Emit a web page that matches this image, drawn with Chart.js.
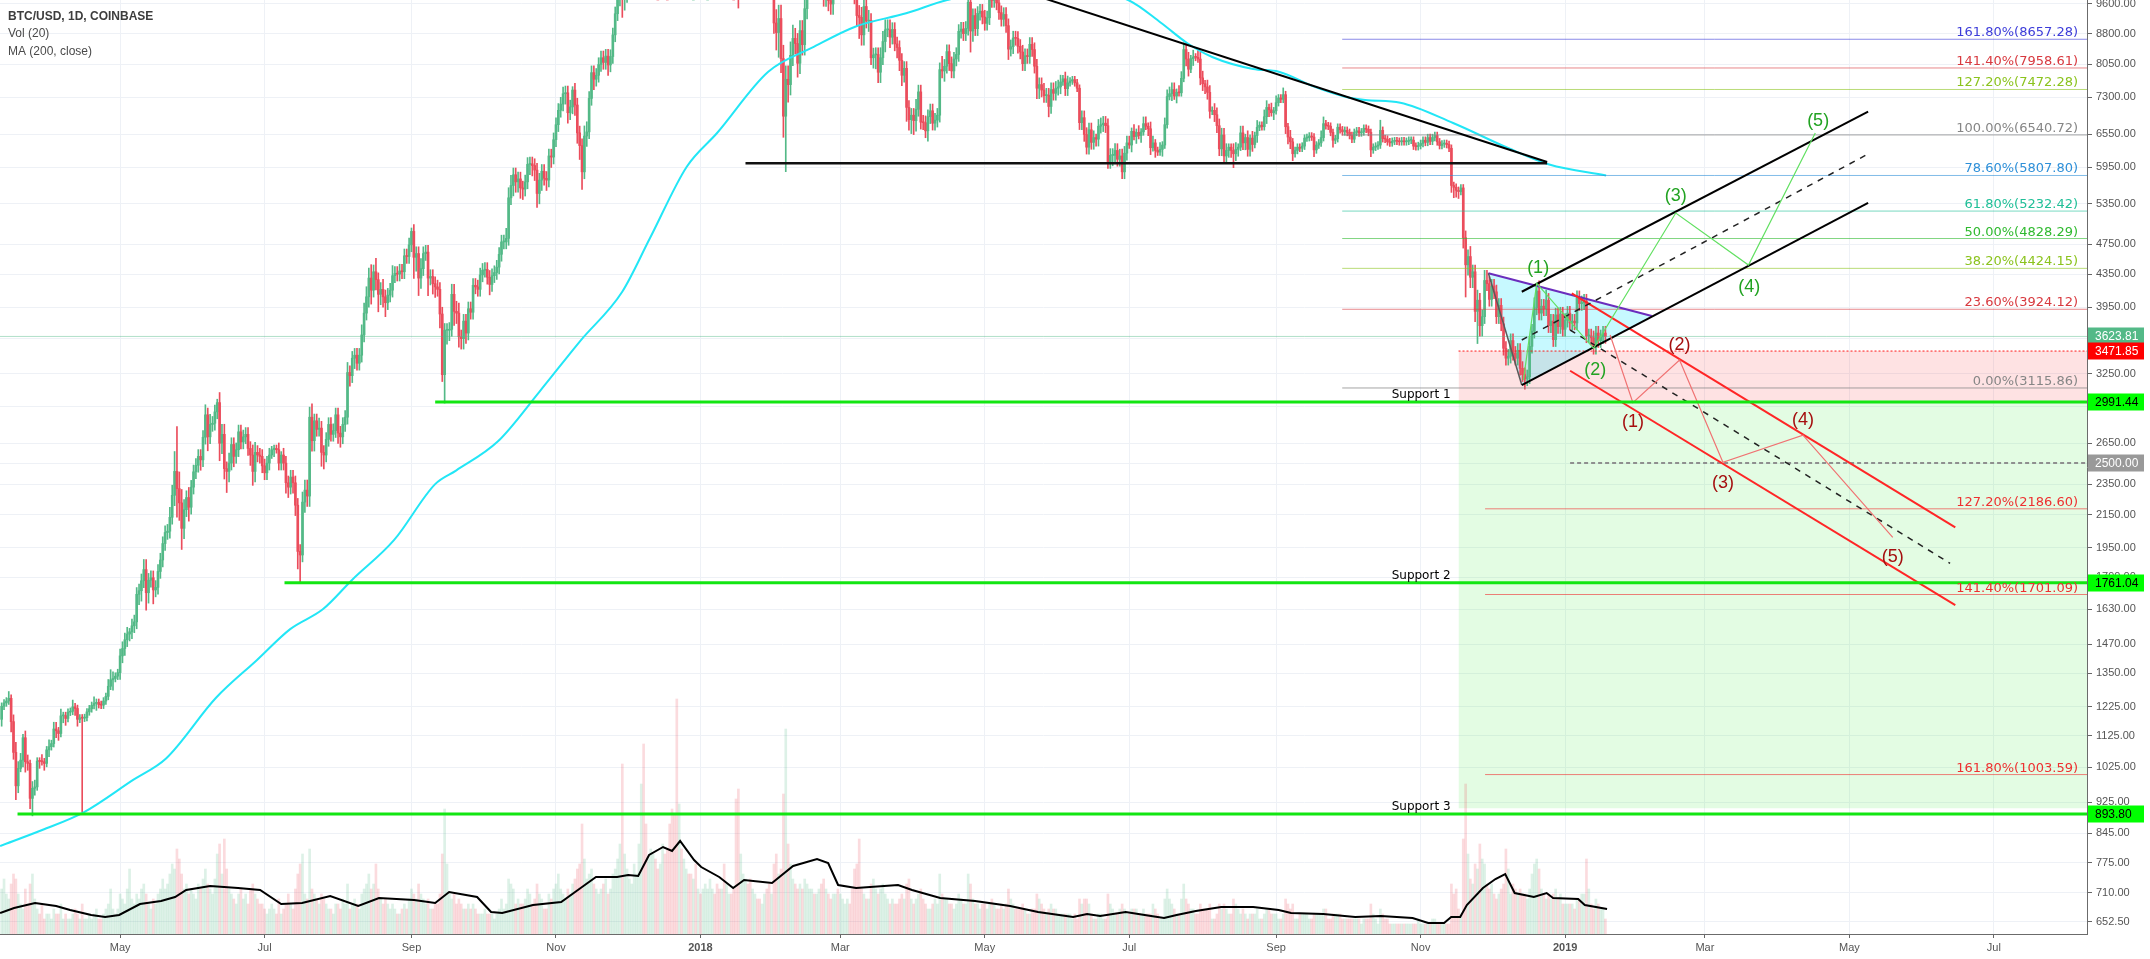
<!DOCTYPE html>
<html><head><meta charset="utf-8">
<script src="https://cdn.jsdelivr.net/npm/chart.js@4.4.1/dist/chart.umd.min.js"></script>
<style>html,body{margin:0;padding:0;background:#fff;overflow:hidden}canvas{display:block}</style>
</head><body>
<canvas id="c" width="2150" height="959"></canvas>
<script>
// ---------------- DATA ----------------
const startDate = '2017-03-12';
const firstOpen = 1180;
const closes = [
// Mar 2017
1226,1238,1245,1255,1172,1071,971,1022,1047,1118,1042,1037,936,964,968,1044,1043,1042,1037,1079,
// Apr
1089,1099,1147,1141,1132,1192,1193,1183,1205,1208,1224,1218,1180,1185,1184,1186,1206,1217,1229,1236,1240,1232,1230,1245,1262,1300,1325,1330,1339,1353,
// May
1421,1452,1490,1515,1525,1552,1570,1702,1720,1771,1830,1710,1774,1787,1724,1737,1820,1882,1975,2040,2048,2133,2275,2440,2320,2225,2065,2181,2260,2197,2330,
// Jun
2437,2484,2550,2524,2697,2880,2700,2800,2810,2905,2985,2650,2720,2460,2440,2500,2640,2550,2600,2740,2660,2700,2720,2610,2560,2440,2580,2560,2550,2480,
// Jul
2430,2500,2560,2600,2610,2600,2500,2560,2500,2360,2330,2400,2360,2210,1930,1910,2230,2310,2270,2860,2670,2830,2760,2770,2580,2560,2680,2800,2720,2750,2880,
// Aug
2730,2700,2800,2860,3260,3230,3400,3430,3350,3430,3640,3880,4070,4300,4150,4380,4280,4100,4160,4070,4000,4090,4150,4330,4360,4350,4390,4380,4590,4580,4740,
// Sep
4930,4570,4620,4300,4420,4620,4640,4300,4320,4230,4190,4160,3870,3240,3690,3690,3700,4100,3900,3880,3620,3600,3790,3660,3930,3890,4210,4190,4160,4340,
// Oct
4400,4410,4310,4220,4330,4370,4440,4610,4780,4780,4830,5440,5640,5820,5700,5750,5600,5580,5700,6000,6010,5980,5900,5510,5730,5880,5760,5730,6150,6130,6450,
// Nov
6740,7030,7160,7380,7400,6980,7100,7460,7140,6580,6340,5870,6520,6600,7280,7850,7700,7790,8040,8200,8090,8240,8030,8230,8770,9330,9740,9890,9820,9940,
// Dec
10850,10890,11180,11600,11650,13750,16850,16050,14880,15060,16730,17280,16480,16450,17600,19650,19000,18950,17600,16450,15560,13860,14600,13900,14000,15800,15450,14400,14400,12630,13880,
// Jan 2018
13440,14750,15010,15050,16960,17090,16150,14900,14400,14900,13250,13840,14190,13600,13580,11400,11160,11250,11550,12780,11530,10800,10860,11390,11140,11070,11410,11760,11200,10090,10220,
// Feb
9080,8830,9200,8180,6910,7700,7580,8260,8680,8550,8070,8880,8520,9470,10030,10170,11100,10400,11150,11220,10460,9830,10150,9700,9600,10320,10570,10330,
// Mar
10930,11030,11440,11500,11440,10710,9900,9280,9230,8770,9530,9130,9150,8200,8270,8280,7860,8200,8600,8900,8900,8710,8910,8540,8450,8140,7790,7950,7090,6840,6930,
// Apr
6820,7050,7420,6790,6780,6620,6900,7020,6770,6830,6930,7920,7890,8000,8350,8060,7890,8170,8280,8860,8920,8800,8940,9650,8870,9280,8930,9340,9400,9240,
// May
9070,9220,9750,9700,9850,9630,9360,9180,9310,9010,8410,8470,8690,8680,8480,8340,8060,8250,8230,8530,8400,8000,7500,7580,7460,7340,7350,7110,7470,7390,7500,
// Jun
7530,7640,7710,7490,7620,7660,7690,7620,7500,6780,6880,6550,6310,6640,6400,6490,6460,6710,6740,6770,6720,6050,6160,6160,6250,6090,6150,5870,6200,6390,
// Jul
6350,6610,6510,6590,6530,6600,6760,6710,6660,6300,6390,6250,6220,6270,6350,6740,7320,7380,7470,7330,7410,7400,7720,8400,8170,7930,8180,8220,8210,8170,7730,
// Aug
7600,7530,7410,7010,7030,6940,6720,6280,6540,6150,6250,6310,6250,6190,6270,6310,6580,6390,6490,6270,6480,6360,6530,6690,6730,6700,6900,7090,7040,6980,7020,
// Sep
7190,7290,7260,7360,6700,6500,6410,6190,6250,6310,6290,6330,6480,6490,6520,6500,6260,6350,6390,6490,6760,6720,6710,6590,6440,6470,6690,6640,6600,6630,
// Oct
6590,6530,6460,6590,6620,6580,6600,6670,6650,6590,6260,6310,6330,6350,6630,6470,6460,6410,6390,6420,6430,6420,6410,6430,6410,6420,6440,6440,6330,6320,6340,
// Nov
6380,6440,6400,6490,6420,6490,6530,6410,6340,6370,6380,6360,6290,5640,5610,5560,5540,5600,4840,4470,4580,4310,4380,3900,4030,3740,3840,4270,4230,4040,
// Dec
4200,4130,3840,3970,3760,3500,3400,3420,3580,3450,3400,3480,3300,3240,3200,3220,3520,3680,3940,4140,3880,3960,3930,4030,3740,3790,3590,3860,3730,3870,3700,
// Jan 2019
3800,3880,3770,3790,3770,4060,3990,4000,4020,3630,3630,3610,3510,3660,3580,3620,3660,3624
];
// upper / lower wick length, % beyond the candle body
const wickUpPct = [
1,1,1,2,1,2,3,2,2,1,2,2,1,2,2,1,1,2,1,1,
2,1,2,2,1,2,1,1,1,1,2,1,1,1,1,1,1,1,1,2,1,1,1,1,1,2,3,2,1,1,
2,2,2,2,1,2,2,2,2,2,3,3,2,2,2,2,2,2,2,2,2,3,3,6,14,5,4,3,2,3,2,
2,2,2,2,2,3,2,3,2,2,1,3,3,3,2,3,2,2,2,2,2,2,2,2,2,3,3,2,2,2,
2,2,2,1,1,1,2,1,2,2,2,2,2,2,2,2,3,3,3,3,4,2,2,3,2,2,2,2,2,2,2,
2,2,2,2,3,2,2,2,2,2,3,3,3,3,4,2,4,2,2,3,2,2,2,3,2,2,2,2,2,2,2,
1,2,2,2,3,2,2,2,2,2,2,2,2,2,2,2,2,3,3,3,3,2,2,2,2,2,2,2,2,2,
2,2,2,2,2,2,2,2,2,2,3,3,3,2,2,2,2,2,2,2,2,2,2,2,2,2,2,2,2,2,2,
2,2,2,2,2,2,2,1,2,2,2,2,3,3,2,2,2,2,2,2,2,2,2,2,2,2,2,2,3,2,
3,3,3,3,3,4,10,3,3,3,3,3,3,3,3,2,2,2,3,3,3,4,3,4,3,3,3,3,3,3,3,
3,3,3,3,3,3,3,3,3,3,3,3,3,3,3,3,4,4,3,3,3,3,3,3,3,3,3,3,3,3,3,
4,4,4,4,4,4,4,4,4,3,3,3,3,4,3,3,3,3,3,3,3,3,3,3,3,3,3,3,
3,3,3,3,3,2,2,3,3,3,3,3,3,2,2,2,2,3,3,3,3,3,2,2,2,2,2,2,2,2,2,
2,3,2,2,2,2,2,2,2,2,2,2,4,2,2,2,2,2,2,2,2,2,2,3,3,2,2,2,2,2,
2,2,2,2,2,2,2,2,2,2,2,2,2,2,2,2,2,2,2,2,2,2,2,2,2,2,2,2,2,2,2,
2,2,1,2,2,1,1,1,1,1,2,2,2,2,2,2,1,2,2,2,2,2,2,2,2,2,2,2,2,2,
2,1,2,1,2,1,2,2,1,2,2,1,1,2,1,2,2,2,2,2,1,2,2,2,2,2,1,2,1,2,2,
2,1,2,2,1,2,2,2,2,2,2,1,1,2,2,1,2,2,1,2,1,2,1,2,1,1,2,2,1,2,1,
2,1,1,2,1,1,2,1,1,1,1,1,1,1,1,1,1,1,1,2,2,1,1,1,1,1,1,1,1,1,
1,1,1,1,1,1,1,1,1,1,1,1,1,1,3,1,1,1,1,1,1,1,1,1,1,1,1,1,1,1,1,
1,1,1,1,1,1,1,1,1,1,1,1,1,1,1,1,1,1,1,2,2,3,2,2,3,2,2,3,3,2,
2,2,2,2,2,2,2,2,2,2,2,2,2,2,2,2,3,2,3,2,3,2,2,3,2,2,2,2,2,2,2,
2,2,2,2,2,2,2,2,2,2,2,2,2,2,2,2,2,2
];
const wickDnPct = [
2,1,1,1,3,2,4,2,1,2,3,2,3,5,2,1,2,1,2,1,
2,1,1,2,2,1,2,2,1,1,1,2,2,1,24,1,1,1,1,1,2,1,1,1,1,1,1,3,1,1,
2,2,2,2,2,2,2,2,3,3,2,5,3,2,4,2,2,2,2,2,2,2,2,3,8,5,6,3,2,4,2,
2,2,2,3,2,2,4,2,2,2,2,5,3,3,6,3,2,3,2,2,2,2,2,2,3,4,3,2,2,2,
2,2,2,1,2,1,2,2,2,3,3,2,3,3,5,8,2,3,3,3,3,3,2,2,4,4,2,2,2,2,2,
3,3,2,2,2,3,2,3,2,2,2,2,2,3,4,2,3,5,3,3,4,2,2,2,2,2,2,2,2,2,2,
2,6,4,5,3,2,2,5,2,3,3,2,4,2,8,4,3,2,4,3,3,3,3,3,2,2,2,2,2,2,
2,2,2,3,2,2,2,2,2,2,2,2,2,3,3,3,3,3,2,2,3,3,3,4,3,3,2,3,2,3,2,
2,2,2,2,3,3,2,2,3,3,4,5,2,3,2,2,3,2,2,2,2,2,3,2,2,2,2,2,6,4,
3,3,3,3,3,3,3,5,7,5,3,3,3,4,3,3,3,3,4,4,5,11,3,5,3,3,5,5,4,6,3,
3,3,3,3,3,3,3,3,3,3,5,3,3,3,3,8,15,4,3,3,3,4,4,3,3,3,2,3,3,3,3,
3,5,7,4,6,15,5,3,3,3,4,3,3,3,3,3,3,3,3,3,3,3,3,3,3,3,3,3,
2,3,2,2,2,3,3,3,6,3,3,2,3,2,3,4,3,3,2,3,2,3,2,2,3,3,3,2,4,3,4,
4,3,2,2,2,2,3,2,2,2,2,2,2,3,2,2,2,2,2,2,2,2,2,2,6,3,2,2,2,2,
2,2,2,2,2,2,2,2,2,2,3,2,2,2,2,2,2,2,2,2,2,2,3,3,2,2,2,3,2,2,2,
2,2,1,2,2,1,1,1,1,2,2,2,2,2,2,2,2,2,2,2,2,2,2,3,2,2,2,2,2,2,
1,2,1,2,1,2,1,1,2,2,1,2,1,1,2,1,1,1,2,1,2,1,1,1,2,2,1,2,1,1,2,
2,2,2,2,1,2,2,2,2,2,2,2,2,4,2,2,1,2,2,2,2,2,1,2,1,1,1,2,2,1,2,
1,1,1,1,2,2,2,2,1,1,1,1,1,1,1,1,2,1,1,1,1,1,1,1,2,1,1,1,1,1,
1,1,1,1,1,1,1,1,1,1,2,1,1,1,1,1,1,1,1,1,1,1,1,1,1,1,1,1,1,1,1,
1,1,1,1,1,1,1,1,1,1,1,1,1,2,3,2,2,1,3,9,3,3,3,3,9,3,3,2,2,2,
2,2,2,2,2,2,2,2,2,2,2,2,2,2,3,2,2,2,2,2,2,2,2,2,2,2,2,2,2,2,2,
2,2,2,2,2,2,2,2,2,2,2,2,2,2,2,2,2,2
];
// daily volume (relative units)
const volumes = [
9,11,8,7,10,12,11,8,6,5,9,6,10,12,7,5,4,6,3,4,
4,3,5,4,4,6,3,4,3,3,4,5,4,3,6,3,3,4,3,4,5,3,3,4,5,6,9,5,4,5,
8,7,6,9,13,7,6,8,7,9,10,8,6,5,7,6,8,9,11,9,10,12,14,13,17,15,12,9,10,8,9,
8,7,10,9,11,13,10,9,8,11,16,18,12,19,13,9,8,7,6,8,9,7,8,6,9,10,8,7,6,6,
5,4,5,6,5,4,7,4,5,6,8,6,5,9,12,14,16,8,7,17,9,8,7,6,8,7,6,5,5,4,6,
6,5,7,6,10,5,6,7,6,5,8,9,10,12,9,10,14,9,7,6,7,6,5,6,5,4,4,5,6,5,7,
9,8,7,10,8,7,6,7,5,5,6,6,8,16,25,14,8,7,8,6,7,6,5,5,6,5,6,5,4,4,
4,5,4,4,4,3,4,5,7,5,6,11,10,9,6,7,6,6,7,9,8,6,7,10,8,7,5,5,8,7,9,
10,12,9,8,7,9,8,10,11,13,14,22,15,11,12,13,10,9,8,9,10,11,8,9,12,13,15,18,34,16,
13,11,10,14,12,18,30,38,22,15,17,16,15,13,14,18,16,17,22,25,24,47,26,17,15,13,12,12,11,14,9,
8,9,10,9,11,9,8,10,9,9,14,10,8,8,9,27,29,16,12,11,10,11,9,8,7,7,6,8,9,10,8,
14,16,12,13,28,41,18,14,11,10,9,10,9,11,10,9,9,8,8,9,10,11,9,8,7,8,8,9,
8,7,6,7,6,9,13,14,19,9,8,7,7,10,11,9,8,9,10,8,7,6,7,6,6,7,8,7,10,11,7,
6,7,8,9,7,6,5,5,6,7,6,12,8,7,7,6,6,5,6,8,7,6,6,12,10,7,6,6,5,6,
6,5,6,7,6,5,5,6,5,6,9,7,6,5,5,5,6,5,4,4,5,5,8,7,6,5,4,5,6,5,5,
4,4,4,4,4,4,3,4,3,7,6,7,7,6,4,3,3,4,4,3,3,8,6,5,4,4,5,6,5,4,
4,5,5,5,4,4,5,4,4,4,6,5,4,3,3,7,9,7,6,5,4,4,7,10,7,6,5,5,4,4,6,
5,5,5,6,3,3,4,6,5,6,5,4,4,7,6,5,4,5,4,3,4,4,4,5,3,3,4,5,5,4,4,
4,3,3,4,7,6,5,6,3,3,4,4,4,4,3,3,4,4,4,4,5,5,3,3,4,4,4,4,3,3,
3,3,3,3,3,3,2,3,3,3,6,4,3,2,5,4,3,3,2,2,2,2,2,2,2,2,2,2,2,2,3,
2,2,2,2,2,3,3,2,2,2,2,2,2,10,8,9,5,4,19,30,16,11,10,14,13,18,15,14,10,9,
10,8,7,8,9,10,17,13,8,10,9,8,9,8,8,7,9,12,14,15,13,9,8,7,8,7,8,9,7,8,6,
6,6,6,6,5,7,7,8,8,15,9,6,5,7,6,5,5,3
];
// MA(200, close): [day index, price]
const ma200Points = [[-0.66,814],[17.1,853],[34.8,899],[55.5,988],[69.4,1052],[90.4,1256],[107.8,1404],[121.8,1537],[135.7,1630],[147.9,1775],[165.7,1996],[183,2351],[191.8,2446],[209.4,2663],[226.9,3079],[244.2,3575],[261.9,4128],[273.7,4835],[289.2,5959],[302,6578],[323.6,7872],[343,8471],[360.3,8982],[381.8,9342],[399.1,9713],[437.1,10150],[475.5,9713],[489.5,9080],[500.4,8563],[511,8219],[528.3,7935],[539.1,7872],[554,7534],[567.1,7316],[575.6,7246],[590.4,7189],[612.7,6773],[635.9,6295],[653.3,5998],[677.3,5807]];
// Vol MA(20): [day index, volume units]
const volMaPoints = [[-0.66,4.2],[5.25,5.2],[14.1,6.2],[23,5.6],[28.9,4.8],[37.8,3.8],[43.7,3.4],[49.6,3.8],[58.4,6],[67.3,6.6],[73.2,7.4],[77.9,8.8],[88,9.6],[99.8,9.2],[109.1,8.8],[118,6],[126.8,6.2],[138.7,7.6],[150.5,5.6],[159.3,7.2],[174.1,6.8],[183,6.2],[188.9,8.4],[200.7,7.4],[206.6,4.4],[211.3,4.2],[224.3,5.8],[236.2,6.4],[245,9.4],[250.9,11.4],[259.8,11.4],[264.5,11.8],[268.7,11.6],[273.3,15.8],[279.2,17.4],[283,16.6],[286.4,18.6],[292.3,14.8],[295.3,13.4],[302.9,11.4],[308.8,9.2],[313.4,10.8],[325.2,10.2],[334.1,13.6],[344.2,15],[348.9,14.2],[353.1,9.8],[360.7,9.2],[378.4,9.8],[384.3,8.8],[396.2,7.2],[410.9,6.6],[425.7,5.6],[437.5,4.4],[452.3,3.4],[458.2,4],[463.7,3.6],[474.5,4.4],[485.2,3.6],[490.7,3.2],[496,3.8],[504.1,4.6],[514.8,5.4],[528.3,5.4],[539.1,4.8],[544.3,4.2],[557.9,4],[571.4,3.4],[582.2,3.6],[595.6,3.2],[602.2,2.2],[608.9,2.2],[611.9,3.4],[615.7,3.4],[618.5,5.8],[625.3,9.2],[630.6,11],[634.7,12],[638.7,8.2],[646.8,7.4],[652.2,8.2],[654.9,7.2],[665.5,7],[668.3,5.8],[677.7,5]];

const xTickDates = ['2017-05-01','2017-07-01','2017-09-01','2017-11-01','2018-01-01','2018-03-01','2018-05-01','2018-07-01','2018-09-01','2018-11-01','2019-01-01','2019-03-01','2019-05-01','2019-07-01'];
const xTickLabels = ['May','Jul','Sep','Nov','2018','Mar','May','Jul','Sep','Nov','2019','Mar','May','Jul'];
const yTickValues = [652.5,710,775,845,925,1025,1125,1225,1350,1470,1630,1790,1950,2150,2350,2500,2650,2950,3250,3600,3950,4350,4750,5350,5950,6550,7300,8050,8800,9600];

const fibUpperPct = [161.8,141.4,127.2,100,78.6,61.8,50,38.2,23.6,0];
const fibUpperValues = [8657.28,7958.61,7472.28,6540.72,5807.80,5232.42,4828.29,4424.15,3924.12,3115.86];
const fibUpperStartDay = 565.9;
const fibLowerPct = [127.2,141.4,161.8];
const fibLowerValues = [2186.60,1701.09,1003.59];
const fibLowerStartDay = 626.2;

const supportNames = ['Support 1','Support 2','Support 3'];
const supportLevels = [2991.44,1761.04,893.80];
const supportStartDays = [183,119.4,6.7];
const supportLabelDay = 599.2;

const descTrendLine = [[440.9,9742],[652.4,6041]];
const rangeFloorLine = [[314,6019],[652.4,6019]];
const trianglePts = [[627.6,4360],[696.6,3847],[641.7,3142.7]];
const upChannelUpper = [[641.7,4131],[787.9,7003]];
const upChannelMid = [[641.7,3586],[787.9,6186]];
const upChannelLower = [[641.7,3142.7],[787.9,5361]];
const downChannelUpper = [[662.8,4112],[824.7,2071]];
const downChannelMid = [[662.1,3693],[822.5,1864]];
const downChannelLower = [[662.1,3277],[824.7,1649]];
const greenWavePath = [[642.4,3189],[648,4234],[672,3499.5],[706.7,5203],[737.4,4467],[765.6,6578]];
const redWavePath = [[679,3639],[688.6,2984],[708.3,3381.6],[726.6,2505.6],[760.4,2714],[798.3,2011]];
const waveNames = ['(1)','(2)','(3)','(4)','(5)'];
const greenWaveLabelPts = [[648.6,4428],[672.7,3284],[706.7,5469],[737.7,4192],[766.8,6819]];
const redWaveLabelPts = [[688.6,2822],[708.3,3533.7],[726.6,2356],[760.4,2836],[798.3,1896.7]];
const zoneStartDay = 615;
const zoneBottom = 909.6;
const lastPrice = 3623.81;
const markPrice = 3471.85;
const targetPrice = 2500;
const targetStartDay = 662.1;

// ---------------- STYLE / BUILD ----------------
const FONT = '"Liberation Sans", Arial, sans-serif';
const X_MIN = -0.7, X_MAX = 880.3, Y_MIN = 629, Y_MAX = 9713;
const UP = '#53b987', DN = '#eb4d5c';
const FIB_UPPER_TEXT = ['#3c3cd9','#d8393f','#8bc31d','#868686','#2d8fd8','#1fbf97','#2fba2f','#8bc31d','#d8393f','#868686'];
const FIB_UPPER_LINE = ['rgba(60,60,217,0.6)','rgba(216,57,63,0.6)','rgba(139,195,29,0.6)','rgba(134,134,134,0.75)','rgba(45,143,216,0.6)','rgba(31,191,151,0.6)','rgba(47,186,47,0.6)','rgba(139,195,29,0.6)','rgba(216,57,63,0.6)','rgba(134,134,134,0.75)'];

const t0 = Date.UTC(2017,2,12);
function dayIndex(s){ const [y,m,d] = s.split('-').map(Number); return (Date.UTC(y,m-1,d) - t0) / 86400000; }
const opens = closes.map((c,i) => i === 0 ? firstOpen : closes[i-1]);
const highs = closes.map((c,i) => Math.max(opens[i], c) * (1 + wickUpPct[i] / 100));
const lows = closes.map((c,i) => Math.min(opens[i], c) * (1 - wickDnPct[i] / 100));
const candleCol = closes.map((c,i) => c >= opens[i] ? UP : DN);
const volCol = closes.map((c,i) => c >= opens[i] ? 'rgba(83,185,135,0.2)' : 'rgba(235,77,92,0.2)');
const pts = arr => arr.map(([x,y]) => ({x, y}));

function line(points, color, width, order, extra) {
  return Object.assign({type:'line', data: pts(points), borderColor: color, borderWidth: width,
    pointRadius: 0, tension: 0, fill: false, order: order}, extra || {});
}

const datasets = [];
// zones
datasets.push(line([[zoneStartDay, markPrice],[X_MAX, markPrice]], 'rgba(0,0,0,0)', 0, 200, {fill:{value: supportLevels[0]}, backgroundColor:'rgba(245,60,70,0.15)'}));
datasets.push(line([[zoneStartDay, supportLevels[0]],[X_MAX, supportLevels[0]]], 'rgba(0,0,0,0)', 0, 199, {fill:{value: zoneBottom}, backgroundColor:'rgba(60,235,60,0.14)'}));
// triangle fill
datasets.push(line([trianglePts[0], trianglePts[1], trianglePts[2], trianglePts[0]], 'rgba(0,0,0,0)', 0, 150, {fill:'shape', backgroundColor:'rgba(0,229,255,0.22)'}));
// volume
datasets.push({type:'bar', yAxisID:'yv', data: volumes.map((v,i)=>({x:i, y:v})), backgroundColor: volCol, barThickness: 2, grouped:false, order: 120});
// candles
datasets.push({type:'bar', data: closes.map((c,i)=>({x:i, y:[lows[i], highs[i]]})), backgroundColor: candleCol, barThickness: 1, grouped:false, order: 60});
datasets.push({type:'bar', data: closes.map((c,i)=>({x:i, y:[opens[i], c]})), backgroundColor: candleCol, barThickness: 2, minBarLength: 1, grouped:false, order: 59});
// indicators
datasets.push(line(ma200Points, '#22e6f6', 2, 55, {cubicInterpolationMode:'monotone'}));
datasets.push(line(volMaPoints, '#000', 2, 56, {yAxisID:'yv'}));
// last price line
datasets.push(line([[X_MIN, lastPrice],[X_MAX, lastPrice]], 'rgba(83,185,135,0.45)', 1, 58));
// fib lines
fibUpperValues.forEach((v,i) => datasets.push(line([[fibUpperStartDay, v],[X_MAX, v]], FIB_UPPER_LINE[i], 1, 40)));
fibLowerValues.forEach(v => datasets.push(line([[fibLowerStartDay, v],[X_MAX, v]], 'rgba(240,60,60,0.65)', 1, 40)));
// mark / target lines
datasets.push(line([[zoneStartDay, markPrice],[X_MAX, markPrice]], '#ff1a1a', 1, 38, {borderDash:[2,2]}));
datasets.push(line([[targetStartDay, targetPrice],[X_MAX, targetPrice]], '#8f8f8f', 2, 38, {borderDash:[4,3]}));
// trend lines
datasets.push(line(descTrendLine, '#000', 2, 30));
datasets.push(line(rangeFloorLine, '#111', 2.5, 30));
// triangle edges
datasets.push(line([trianglePts[0], trianglePts[2]], '#5a5a5a', 1.5, 29));
datasets.push(line([trianglePts[0], trianglePts[1]], '#6b2dbd', 2, 29));
// channels
datasets.push(line(upChannelUpper, '#000', 2, 28));
datasets.push(line(upChannelMid, '#222', 1.5, 28, {borderDash:[6,6]}));
datasets.push(line(upChannelLower, '#000', 2, 28));
datasets.push(line(downChannelUpper, '#ff2626', 2, 28));
datasets.push(line(downChannelMid, '#222', 1.5, 28, {borderDash:[6,6]}));
datasets.push(line(downChannelLower, '#ff2626', 2, 28));
// waves
datasets.push(line(greenWavePath, '#62e062', 1.2, 26));
datasets.push(line(redWavePath, '#f07272', 1.2, 26));
// supports
supportLevels.forEach((v,i) => datasets.push(line([[supportStartDays[i], v],[X_MAX, v]], '#12e612', 3, 20)));

const overlay = {
  id: 'overlay',
  afterDatasetsDraw(chart) {
    const {ctx, chartArea: a} = chart;
    const xs = chart.scales.x, ys = chart.scales.y;
    ctx.save();
    ctx.beginPath(); ctx.rect(a.left, a.top, a.right - a.left, a.bottom - a.top); ctx.clip();
    ctx.textAlign = 'right'; ctx.textBaseline = 'alphabetic';
    ctx.font = '13px "DejaVu Sans", Verdana, sans-serif';
    fibUpperPct.forEach((p,i) => {
      const v = fibUpperValues[i];
      ctx.fillStyle = FIB_UPPER_TEXT[i];
      ctx.fillText(p.toFixed(2) + '%(' + v.toFixed(2) + ')', a.right - 9, ys.getPixelForValue(v) - 3);
    });
    fibLowerPct.forEach((p,i) => {
      const v = fibLowerValues[i];
      ctx.fillStyle = '#ee3030';
      ctx.fillText(p.toFixed(2) + '%(' + v.toFixed(2) + ')', a.right - 9, ys.getPixelForValue(v) - 3);
    });
    ctx.textAlign = 'center';
    ctx.font = '12px "DejaVu Sans", Verdana, sans-serif';
    ctx.fillStyle = '#000';
    supportLevels.forEach((v,i) => ctx.fillText(supportNames[i], xs.getPixelForValue(supportLabelDay), ys.getPixelForValue(v) - 4));
    ctx.font = '18px ' + FONT; ctx.textBaseline = 'middle';
    greenWaveLabelPts.forEach(([d,p],i) => { ctx.fillStyle = '#22a322'; ctx.fillText(waveNames[i], xs.getPixelForValue(d), ys.getPixelForValue(p)); });
    redWaveLabelPts.forEach(([d,p],i) => { ctx.fillStyle = '#a50f0f'; ctx.fillText(waveNames[i], xs.getPixelForValue(d), ys.getPixelForValue(p)); });
    ctx.restore();
  },
  afterDraw(chart) {
    const {ctx, chartArea: a} = chart;
    const ys = chart.scales.y;
    ctx.save();
    const boxes = [[lastPrice,'#53b987','#fff'],[markPrice,'#ff0000','#fff'],[supportLevels[0],'#00ff00','#000'],[targetPrice,'#999999','#fff'],[supportLevels[1],'#00ff00','#000'],[supportLevels[2],'#00ff00','#000']];
    ctx.font = '12px ' + FONT; ctx.textAlign = 'left'; ctx.textBaseline = 'middle';
    boxes.forEach(([v,bg,fg]) => {
      const yy = Math.round(ys.getPixelForValue(v));
      ctx.fillStyle = bg; ctx.fillRect(a.right + 1, yy - 8.5, 56, 17);
      ctx.fillStyle = fg; ctx.fillText(v.toFixed(2), a.right + 8, yy + 0.5);
    });
    ctx.fillStyle = '#3d3d3d';
    ctx.font = 'bold 12px ' + FONT; ctx.textAlign = 'left';
    ctx.fillText('BTC/USD, 1D, COINBASE', 8, 17);
    ctx.fillStyle = '#4a4a4a';
    ctx.font = '12px ' + FONT;
    ctx.fillText('Vol (20)', 8, 34);
    ctx.fillText('MA (200, close)', 8, 52);
    ctx.restore();
  }
};

new Chart(document.getElementById('c'), {
  type: 'bar',
  data: { datasets },
  options: {
    responsive: false, animation: false, devicePixelRatio: 1,
    layout: { padding: 0, autoPadding: false },
    plugins: { legend: {display:false}, tooltip: {enabled:false} },
    scales: {
      x: { type:'linear', min:X_MIN, max:X_MAX, offset:false, position:'bottom',
        afterBuildTicks: s => { s.ticks = xTickDates.map(d => ({value: dayIndex(d)})); },
        afterFit: s => { s.height = 25; s.paddingLeft = 0; s.paddingRight = 0; },
        ticks: { autoSkip:false, maxRotation:0, padding:3, color:'#555',
          font: c => ({family: FONT, size: 11, weight: /^\d{4}$/.test(xTickLabels[c.index] || '') ? 'bold' : 'normal'}),
          callback: (v, i) => xTickLabels[i] },
        grid: { color:'#eef1f6', tickColor:'#666', tickLength:4, offset:false },
        border: { color:'#6b6b6b' } },
      y: { type:'logarithmic', position:'right', min:Y_MIN, max:Y_MAX,
        afterBuildTicks: s => { s.ticks = yTickValues.map(v => ({value: v})); },
        afterFit: s => { s.width = 63; s.paddingTop = 0; s.paddingBottom = 0; },
        ticks: { autoSkip:false, padding:4, color:'#555', font:{family: FONT, size: 11},
          callback: v => Number(v).toFixed(2) },
        grid: { color:'#eef1f6', tickColor:'#666', tickLength:5 },
        border: { color:'#6b6b6b' } },
      yv: { type:'linear', display:false, min:0, max:186.8 }
    }
  },
  plugins: [overlay]
});
</script>
</body></html>
